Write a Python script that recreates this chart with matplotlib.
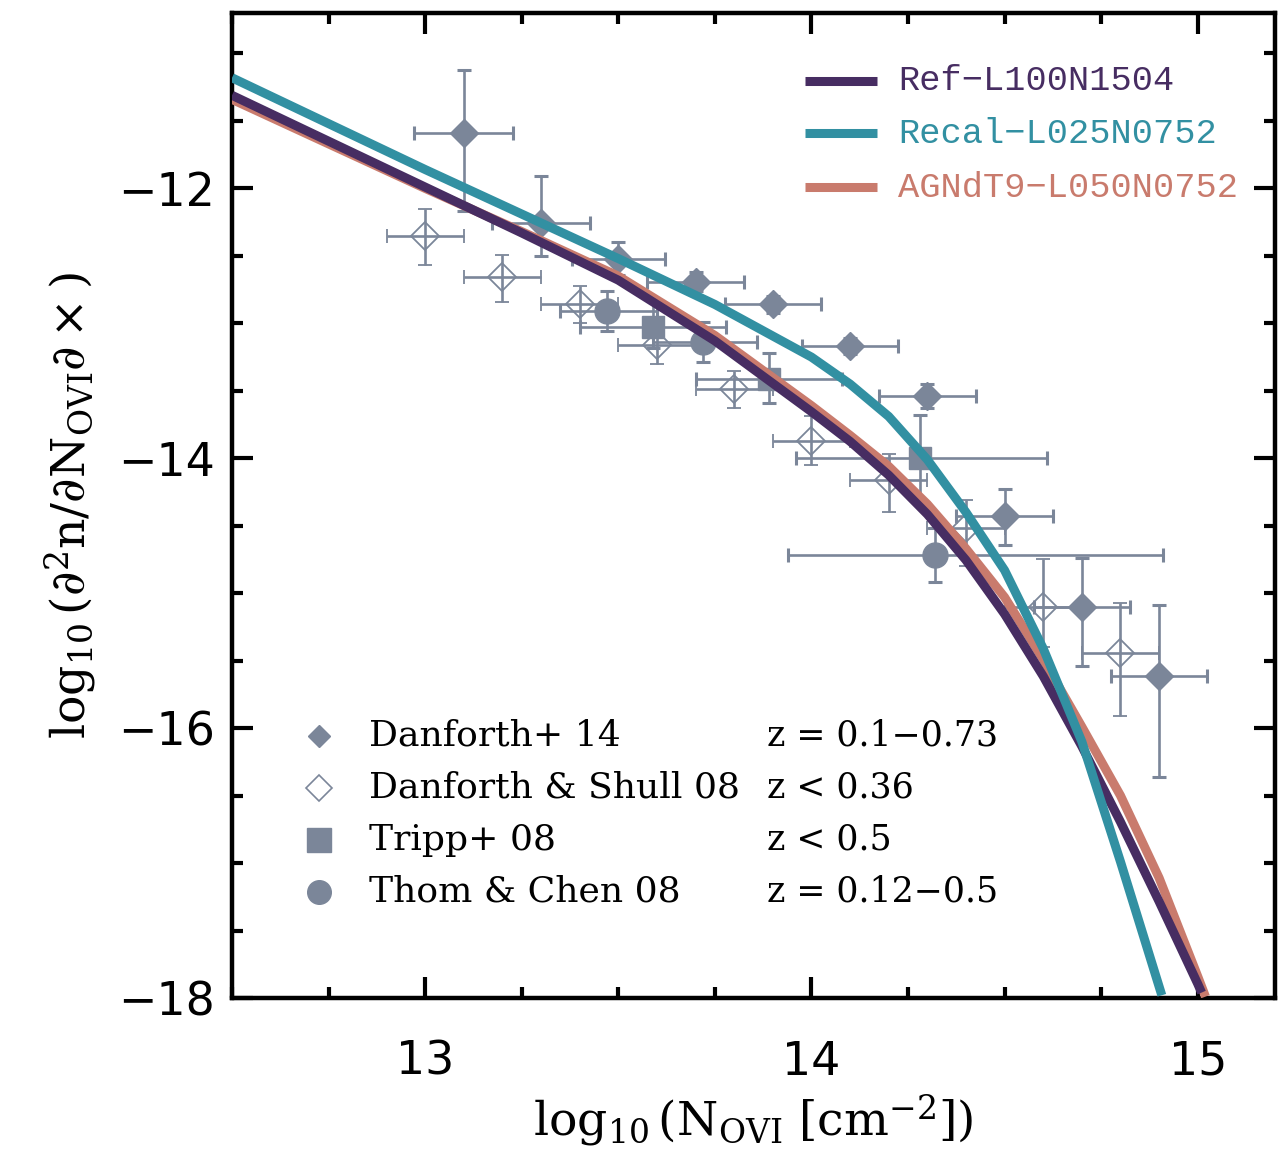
import matplotlib
matplotlib.use("Agg")
import matplotlib.pyplot as plt
from matplotlib.ticker import MultipleLocator

plt.rcParams['mathtext.fontset'] = 'dejavuserif'

# ---------------- model curves ----------------
x_ref = [12.5, 12.75, 13.0, 13.25, 13.5, 13.75, 14.0, 14.1, 14.2, 14.3, 14.4, 14.5, 14.6, 14.7, 14.8, 14.9, 15.0, 15.01]
y_ref = [-11.31, -11.65, -11.99, -12.33, -12.68, -13.13, -13.655, -13.875, -14.125, -14.415, -14.755, -15.155,
         -15.615, -16.135, -16.695, -17.285, -17.895, -17.96]

x_recal = [12.5, 12.75, 13.0, 13.25, 13.5, 13.75, 14.0, 14.1, 14.2, 14.3, 14.4, 14.5, 14.6, 14.7, 14.8, 14.907]
y_recal = [-11.18, -11.52, -11.86, -12.19, -12.52, -12.86, -13.25, -13.45, -13.69, -14.01, -14.40, -14.83,
           -15.41, -16.10, -16.99, -17.98]

x_agn = [12.5, 12.75, 13.0, 13.25, 13.5, 13.75, 14.0, 14.1, 14.2, 14.3, 14.4, 14.5, 14.6, 14.7, 14.8, 14.9, 15.0, 15.02]
y_agn = [-11.34, -11.67, -12.00, -12.32, -12.65, -13.09, -13.61, -13.83, -14.06, -14.34, -14.67, -15.03,
         -15.49, -15.99, -16.50, -17.11, -17.84, -17.99]

model_labels = ["Ref\u2212L100N1504", "Recal\u2212L025N0752", "AGNdT9\u2212L050N0752"]
model_colors = ["#472d62", "#3290a2", "#c97b6d"]

# ---------------- observations ----------------
# Danforth+ 14 (filled diamonds)
d14_x = [13.10, 13.30, 13.50, 13.70, 13.90, 14.10, 14.30, 14.50, 14.70, 14.90]
d14_y = [-11.59, -12.26, -12.52, -12.69, -12.86, -13.17, -13.54, -14.43, -15.10, -15.61]
d14_xerr = [0.128, 0.127, 0.12, 0.125, 0.125, 0.125, 0.125, 0.125, 0.125, 0.125]
d14_yerr_lo = [0.58, 0.24, 0.12, 0.07, 0.06, 0.06, 0.09, 0.21, 0.44, 0.75]
d14_yerr_hi = [0.47, 0.35, 0.12, 0.07, 0.06, 0.06, 0.09, 0.20, 0.36, 0.52]

# Danforth & Shull 08 (open diamonds)
ds08_x = [13.0, 13.2, 13.4, 13.6, 13.8, 14.0, 14.2, 14.4, 14.6, 14.8]
ds08_y = [-12.35, -12.66, -12.86, -13.16, -13.49, -13.87, -14.16, -14.52, -15.10, -15.44]
ds08_xerr = [0.1] * 10
ds08_yerr_lo = [0.22, 0.18, 0.14, 0.14, 0.14, 0.18, 0.24, 0.28, 0.30, 0.47]
ds08_yerr_hi = [0.20, 0.17, 0.14, 0.14, 0.14, 0.18, 0.19, 0.21, 0.35, 0.37]

# Tripp+ 08 (squares)
t08_x = [13.59, 13.89, 14.28]
t08_y = [-13.03, -13.41, -14.00]
t08_xerr_lo = [0.19, 0.19, 0.32]
t08_xerr_hi = [0.19, 0.19, 0.33]
t08_yerr_lo = [0.15, 0.18, 0.32]
t08_yerr_hi = [0.20, 0.19, 0.32]

# Thom & Chen 08 (circles)
tc08_x = [13.47, 13.72, 14.32]
tc08_y = [-12.91, -13.14, -14.72]
tc08_xerr_lo = [0.12, 0.13, 0.38]
tc08_xerr_hi = [0.13, 0.14, 0.59]
tc08_yerr = [0.15, 0.15, 0.20]

obs_labels = ["Danforth+ 14", "Danforth & Shull 08", "Tripp+ 08", "Thom & Chen 08"]
obs_z = ["z = 0.1\u22120.73", "z < 0.36", "z < 0.5", "z = 0.12\u22120.5"]

gray = "#7b8699"

fig = plt.figure(figsize=(12.83, 11.6), dpi=100)
ax = fig.add_axes([232/1283, 1 - 998/1160, (1275-232)/1283, (998-13)/1160])

ekw = dict(ecolor=gray, elinewidth=1.9, capsize=4.7, capthick=2.2, linestyle='none', zorder=3)
ax.errorbar(ds08_x, ds08_y, xerr=ds08_xerr, yerr=[ds08_yerr_lo, ds08_yerr_hi],
            marker='D', ms=14, mfc='none', mec=gray, mew=1.3, **ekw)
ax.errorbar(d14_x, d14_y, xerr=d14_xerr, yerr=[d14_yerr_lo, d14_yerr_hi],
            marker='D', ms=14, mfc=gray, mec=gray, **ekw)
ax.errorbar(t08_x, t08_y, xerr=[t08_xerr_lo, t08_xerr_hi], yerr=[t08_yerr_lo, t08_yerr_hi],
            marker='s', ms=16, mfc=gray, mec=gray, **ekw)
ax.errorbar(tc08_x, tc08_y, xerr=[tc08_xerr_lo, tc08_xerr_hi], yerr=tc08_yerr,
            marker='o', ms=18, mfc=gray, mec=gray, **ekw)

lkw = dict(lw=6.5, solid_capstyle='butt', solid_joinstyle='round')
ax.plot(x_agn, y_agn, color=model_colors[2], zorder=4, **lkw)
ax.plot(x_ref, y_ref, color=model_colors[0], zorder=5, **lkw)
ax.plot(x_recal, y_recal, color=model_colors[1], zorder=6, **lkw)

ax.set_xlim(12.5, 15.2)
ax.set_ylim(-18, -10.70)

ax.xaxis.set_major_locator(MultipleLocator(1))
ax.xaxis.set_minor_locator(MultipleLocator(0.25))
ax.yaxis.set_major_locator(MultipleLocator(2))
ax.yaxis.set_minor_locator(MultipleLocator(0.5))
ax.tick_params(which='both', direction='in', top=True, right=True, width=3)
ax.tick_params(which='major', length=15)
ax.tick_params(which='minor', length=8)
ax.tick_params(axis='x', which='major', labelsize=33, pad=30)
ax.tick_params(axis='y', which='major', labelsize=33, pad=12)
for s in ax.spines.values():
    s.set_linewidth(3.2)

ax.set_xlabel(r'$\log_{10}(\mathrm{N_{OVI}}\ [\mathrm{cm}^{-2}])$', fontsize=34, labelpad=6)
ax.set_ylabel(r'$\log_{10}(\partial^2\mathrm{n}/\partial\mathrm{N_{OVI}}\partial\times)$', fontsize=34, labelpad=14)

# top-right legend (models)
for i, (lab, c) in enumerate(zip(model_labels, model_colors)):
    yy = [0.931, 0.878, 0.823][i]
    ax.plot([0.549, 0.618], [yy, yy], color=c, lw=6.5, transform=ax.transAxes, solid_capstyle='butt')
    ax.text(0.6385, yy, lab, color=c, fontsize=25.5, family='Liberation Mono',
            va='center', ha='left', transform=ax.transAxes)

# bottom-left legend (observations)
leg_markers = [dict(marker='D', ms=11, mfc=gray, mec=gray),
               dict(marker='D', ms=13, mfc='white', mec=gray, mew=1.2),
               dict(marker='s', ms=17, mfc=gray, mec=gray),
               dict(marker='o', ms=17, mfc=gray, mec=gray)]
rows = [0.2663, 0.2134, 0.1606, 0.1077]
for yy, mk, lab, zt in zip(rows, leg_markers, obs_labels, obs_z):
    ax.plot([0.0834], [yy], linestyle='none', transform=ax.transAxes, **mk)
    ax.text(0.1314, yy, lab, fontsize=26, family='DejaVu Serif', va='center', ha='left',
            transform=ax.transAxes)
    ax.text(0.513, yy, zt, fontsize=25, family='DejaVu Serif', va='center', ha='left',
            transform=ax.transAxes)

fig.savefig('out.png', dpi=100)
